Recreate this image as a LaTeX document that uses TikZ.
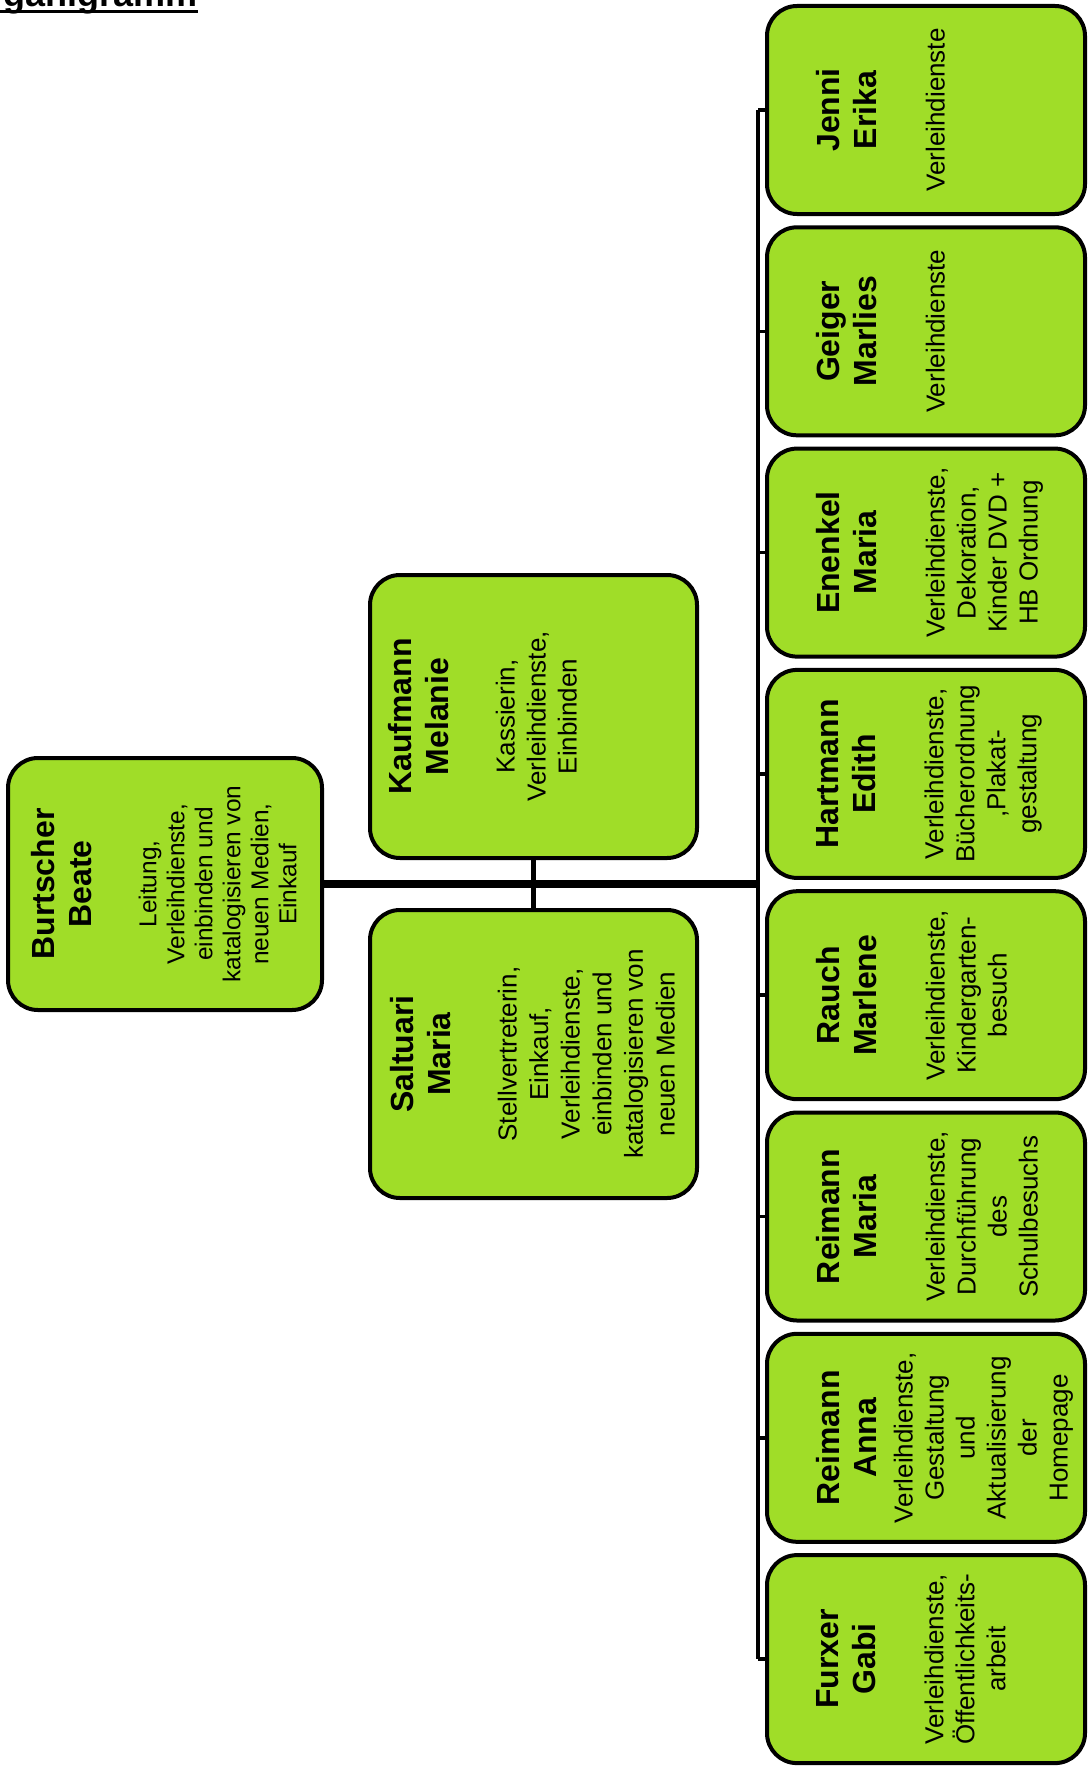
\documentclass[tikz,border=0pt]{standalone}
\usepackage{fontspec}
\setmainfont{Liberation Sans}
\definecolor{staffgreen}{RGB}{160,221,40}

\begin{document}
\begin{tikzpicture}[
	x=0.5pt, y=-0.5pt,
	card/.style={ draw, line width=2pt, rounded corners=15pt, fill=staffgreen, inner sep=0pt },
	namelabel/.style={ rotate=90, anchor=north, align=center, inner sep=0pt, font=\fontsize{16}{18.5}\selectfont\bfseries },
	duties/.style={ rotate=90, anchor=north, align=center, inner sep=0pt, font=\fontsize{13}{15.5}\selectfont },
	trunk/.style={ line width=4pt },
	branch/.style={ line width=1.8pt }
]
	\useasboundingbox (0,0) rectangle (1087,1766);

	% title, cut off by the page edge
	\node[anchor=base east, inner sep=0pt, font=\fontsize{18}{20}\selectfont\bfseries] (title) at (198,7) {Organigramm};
	\draw[line width=1.65pt] ([yshift=-2.35pt]title.base west) -- ([yshift=-2.35pt]title.base east);

	% head and deputies
	\node[card, minimum width=157pt, minimum height=126pt] (burtscher) at (165,884) {};
	\node[namelabel] (burtscher-name) at ([xshift=12.5pt]burtscher.west) {Burtscher\\Beate};
	\node[duties, font=\fontsize{12.2}{14}\selectfont] (burtscher-duties) at ([xshift=23pt]burtscher-name.south) {Leitung,\\Verleihdienste,\\einbinden und\\katalogisieren von\\neuen Medien,\\Einkauf};

	\node[card, minimum width=163.5pt, minimum height=141.5pt] (kaufmann) at (533.5,716.5) {};
	\node[namelabel] (kaufmann-name) at ([xshift=10pt]kaufmann.west) {Kaufmann\\Melanie};
	\node[duties] (kaufmann-duties) at ([xshift=23pt]kaufmann-name.south) {Kassierin,\\Verleihdienste,\\Einbinden};

	\node[card, minimum width=163.5pt, minimum height=144pt] (saltuari) at (533.5,1054) {};
	\node[namelabel] (saltuari-name) at ([xshift=11pt]saltuari.west) {Saltuari\\Maria};
	\node[duties, font=\fontsize{13}{15.8}\selectfont] (saltuari-duties) at ([xshift=23pt]saltuari-name.south) {Stellvertreterin,\\Einkauf,\\Verleihdienste,\\einbinden und\\katalogisieren von\\neuen Medien};

	% staff column
	\foreach \who/\nm/\job/\gap [count=\i from 0] in {
		jenni/{Jenni\\Erika}/{Verleihdienste}/24,
		geiger/{Geiger\\Marlies}/{Verleihdienste}/24,
		enenkel/{Enenkel\\Maria}/{Verleihdienste,\\Dekoration,\\Kinder DVD +\\HB Ordnung}/24,
		hartmann/{Hartmann\\Edith}/{Verleihdienste,\\Bücherordnung\\,Plakat-\\gestaltung}/24,
		rauch/{Rauch\\Marlene}/{Verleihdienste,\\Kindergarten-\\besuch}/24,
		reimannm/{Reimann\\Maria}/{Verleihdienste,\\Durchführung\\des\\Schulbesuchs}/24,
		reimanna/{Reimann\\Anna}/{Verleihdienste,\\Gestaltung\\und\\Aktualisierung\\der\\Homepage}/8,
		furxer/{Furxer\\Gabi}/{Verleihdienste,\\Öffentlichkeits-\\arbeit}/24
	} {
		\node[card, minimum width=159pt, minimum height=104pt] (\who) at (926,{110+221.3*\i}) {};
		\node[namelabel] (\who-name) at ([xshift=25.5pt]\who.west) {\nm};
		\node[duties] (\who-duties) at ([xshift=\gap pt]\who-name.south) {\job};
	}

	% connectors
	\coordinate (spine) at (758,0);
	\draw[trunk] (burtscher.east) -- (burtscher.east -| spine);
	\draw[branch, line width=2.2pt] (kaufmann) -- (saltuari);
	\draw[branch] (jenni.west -| spine) -- (furxer.west -| spine);
	\foreach \who in {jenni,geiger,enenkel,hartmann,rauch,reimannm,reimanna,furxer}
		\draw[branch] (\who.west -| spine) -- (\who.west);

\end{tikzpicture}
\end{document}
